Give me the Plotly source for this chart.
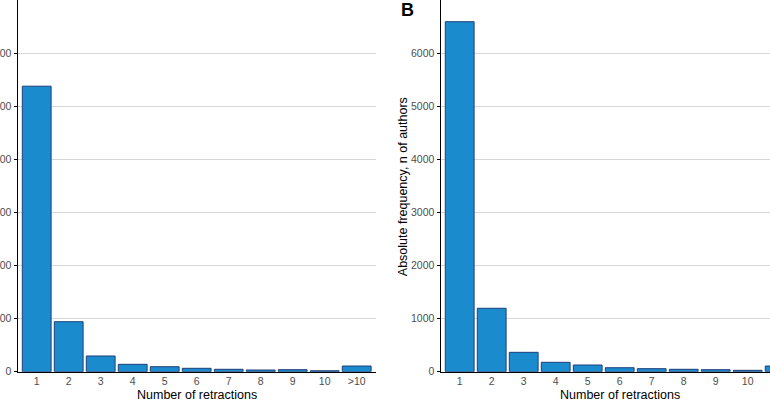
import plotly.graph_objects as go

categories = ["1", "2", "3", "4", "5", "6", "7", "8", "9", "10", ">10"]
panel_a_values = [5380, 942, 296, 139, 94, 64, 45, 32, 38, 18, 107]
panel_b_values = [6595, 1195, 365, 177, 126, 75, 57, 45, 38, 26, 107]
y_tick_values = [0, 1000, 2000, 3000, 4000, 5000, 6000]
y_tick_labels = ["0", "1000", "2000", "3000", "4000", "5000", "6000"]

W, H = 770, 402
FILL = "#1a8bcd"
EDGE = "#1d3f7a"
FONT = "Liberation Sans, Arial, sans-serif"

zero_px = 371.7
top_val = zero_px / 53.07 * 1000

fig = go.Figure()
fig.add_trace(go.Bar(x=list(range(len(categories))), y=panel_a_values, width=0.9,
                     marker=dict(color=FILL, line=dict(color=EDGE, width=1)),
                     xaxis="x", yaxis="y", showlegend=False))
fig.add_trace(go.Bar(x=list(range(len(categories))), y=panel_b_values, width=0.9,
                     marker=dict(color=FILL, line=dict(color=EDGE, width=1)),
                     xaxis="x2", yaxis="y2", showlegend=False))

ydom = [(H - zero_px) / H, 1]
a_left, a_right = 17.5, 375.9
b_left, b_right = 440.5, 770
pitch = 32.0

common_x = dict(tickmode="array", tickvals=list(range(len(categories))), ticktext=categories,
                showline=True, linecolor="black", linewidth=1, ticks="", showgrid=False,
                zeroline=False, tickfont=dict(family=FONT, size=10.5, color="#4d4d4d"),
                automargin=False, fixedrange=True)
common_y = dict(tickmode="array", tickvals=y_tick_values, ticktext=y_tick_labels,
                range=[0, top_val], domain=ydom, showline=True, linecolor="black", linewidth=1,
                ticks="outside", ticklen=3, tickcolor="black", showgrid=True,
                gridcolor="#d6d6d6", gridwidth=1, zeroline=False,
                tickfont=dict(family=FONT, size=10.5, color="#4d4d4d"), automargin=False)

fig.update_layout(
    width=W, height=H,
    margin=dict(l=0, r=0, t=0, b=0),
    paper_bgcolor="white", plot_bgcolor="white",
    bargap=0,
    xaxis=dict(common_x, domain=[a_left / W, a_right / W], anchor="y",
               range=[-0.6, len(categories) - 0.4]),
    yaxis=dict(common_y, anchor="x"),
    xaxis2=dict(common_x, domain=[b_left / W, 1], anchor="y2",
                range=[-0.6, -0.6 + (b_right - b_left) / pitch]),
    yaxis2=dict(common_y, anchor="x2"),
    annotations=[
        dict(text="Number of retractions", x=196.7 / W, y=1 - 395 / H, xref="paper", yref="paper",
             showarrow=False, font=dict(family=FONT, size=12.5, color="black"),
             xanchor="center", yanchor="middle"),
        dict(text="Number of retractions", x=619.6 / W, y=1 - 395 / H, xref="paper", yref="paper",
             showarrow=False, font=dict(family=FONT, size=12.5, color="black"),
             xanchor="center", yanchor="middle"),
        dict(text="Absolute frequency, n of authors", x=402.7 / W, y=1 - 186.5 / H,
             xref="paper", yref="paper", showarrow=False, textangle=-90,
             font=dict(family=FONT, size=12.5, color="black"), xanchor="center", yanchor="middle"),
        dict(text="<b>B</b>", x=399 / W, y=1 - 10 / H, xref="paper", yref="paper",
             showarrow=False, font=dict(family=FONT, size=18, color="black"),
             xanchor="left", yanchor="middle"),
    ],
)

fig.write_html("out.html", config={"displayModeBar": False, "staticPlot": True},
               post_script="document.body.style.margin='0';document.documentElement.style.margin='0';document.body.style.overflow='hidden';")
